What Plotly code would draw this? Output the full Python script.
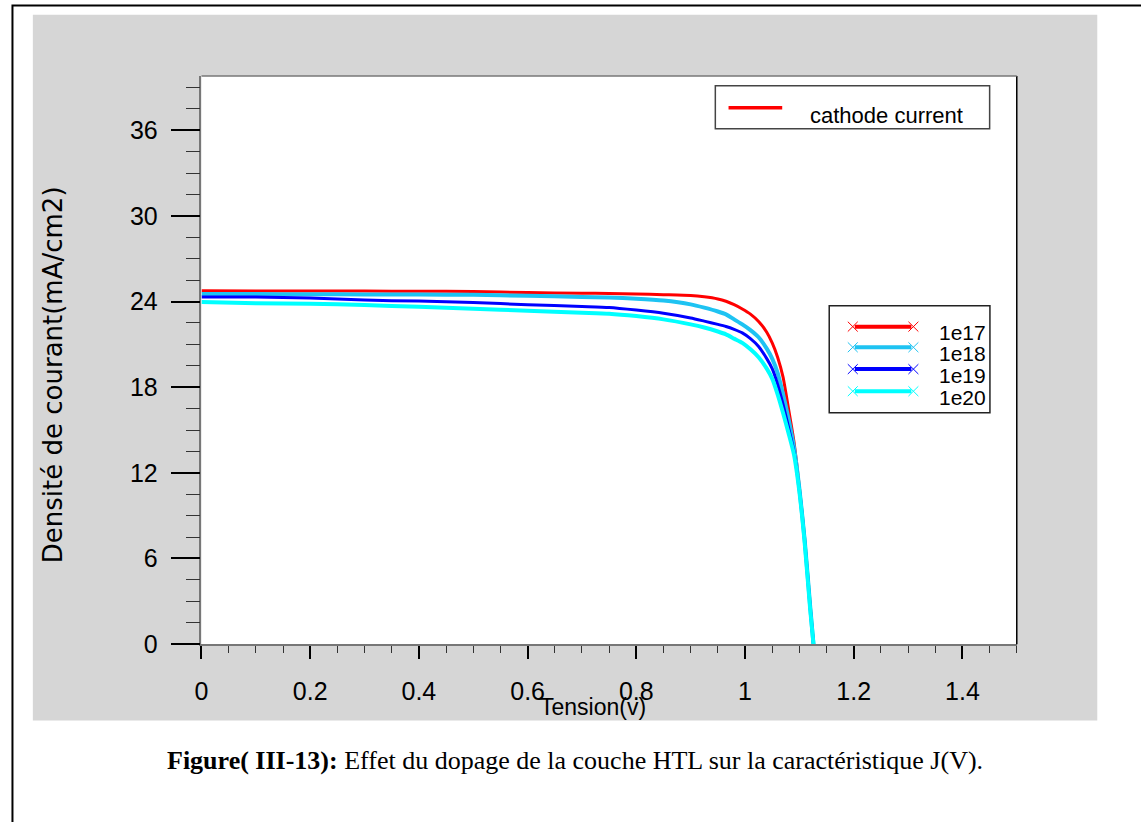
import plotly.graph_objects as go

W, H = 1141, 822

# ---------------- data ----------------
voltage = [0, 0.1, 0.2, 0.3, 0.4, 0.5, 0.6, 0.7, 0.75, 0.8, 0.85, 0.9, 0.925, 0.95, 0.965,
           0.98, 0.995, 1.01, 1.025, 1.04, 1.05, 1.06, 1.07, 1.08, 1.09, 1.10, 1.11, 1.12, 1.126]

j_1e17 = [24.75, 24.74, 24.74, 24.73, 24.72, 24.70, 24.63, 24.58, 24.57, 24.53, 24.48, 24.42, 24.33, 24.18, 24.02,
          23.78, 23.48, 23.12, 22.60, 21.85, 21.10, 20.10, 18.70, 16.50, 14.20, 11.00, 7.30, 2.70, 0.0]
j_1e18 = [24.52, 24.52, 24.51, 24.50, 24.49, 24.47, 24.40, 24.32, 24.28, 24.20, 24.07, 23.80, 23.57, 23.30, 23.10,
          22.75, 22.40, 22.00, 21.50, 20.70, 20.00, 19.00, 17.50, 15.80, 13.80, 10.90, 7.20, 2.60, 0.0]
j_1e19 = [24.31, 24.31, 24.25, 24.10, 24.03, 23.93, 23.78, 23.65, 23.58, 23.40, 23.18, 22.85, 22.63, 22.40, 22.25,
          22.05, 21.80, 21.40, 20.85, 20.00, 19.30, 18.20, 16.80, 15.20, 13.50, 10.80, 7.10, 2.50, 0.0]
j_1e20 = [23.97, 23.88, 23.85, 23.75, 23.63, 23.50, 23.35, 23.22, 23.15, 22.98, 22.75, 22.40, 22.18, 21.90, 21.70,
          21.40, 21.10, 20.65, 20.10, 19.30, 18.60, 17.50, 16.20, 14.80, 13.30, 10.70, 7.00, 2.40, 0.0]

series_names = ["1e17", "1e18", "1e19", "1e20"]
series_values = [j_1e17, j_1e18, j_1e19, j_1e20]
series_colors = ["#ff0000", "#1ec3f2", "#0000ff", "#00ffff"]
series_widths = [3, 4, 3, 4]

x_ticks = [0, 0.2, 0.4, 0.6, 0.8, 1.0, 1.2, 1.4]
x_tick_labels = ["0", "0.2", "0.4", "0.6", "0.8", "1", "1.2", "1.4"]
y_ticks = [0, 6, 12, 18, 24, 30, 36]
y_tick_labels = ["0", "6", "12", "18", "24", "30", "36"]

x_title = "Tension(v)"
y_title = "Densité de courant(mA/cm2)"
legend1_label = "cathode current"
caption_bold = "Figure( III-13):"
caption_text = " Effet du dopage de la couche HTL sur la caractéristique J(V)."

# ---------------- helpers (page pixel -> paper) ----------------
def px(x):
    return x / W

def py(y):
    return 1 - y / H

SANS = "Liberation Sans Narrow, Arial Narrow, Liberation Sans, Arial, sans-serif"

fig = go.Figure()
for name, vals, col, lw in zip(series_names, series_values, series_colors, series_widths):
    fig.add_trace(go.Scatter(x=voltage, y=vals, mode="lines", name=name,
                             line=dict(color=col, width=lw, shape="spline", smoothing=0.6),
                             showlegend=False))

shapes = []
# outer frame
shapes.append(dict(type="rect", xref="paper", yref="paper", x0=px(5.5), x1=px(1170), y0=py(860), y1=py(5.5),
                   line=dict(color="black", width=2), fillcolor="white", layer="below"))
# gray panel
shapes.append(dict(type="rect", xref="paper", yref="paper", x0=px(26), x1=px(1097), y0=py(733), y1=py(15),
                   line=dict(width=0), fillcolor="#d6d6d6", layer="below"))
# white plot area
shapes.append(dict(type="rect", xref="paper", yref="paper", x0=px(195.7), x1=px(1016), y0=py(655.3), y1=py(77.3),
                   line=dict(width=0), fillcolor="white", layer="below"))
# right border of plot (black)
shapes.append(dict(type="line", xref="paper", yref="paper", x0=px(1016), x1=px(1016), y0=py(655.3), y1=py(77.3),
                   line=dict(color="black", width=1.5)))
# top border of plot (gray)
shapes.append(dict(type="line", xref="paper", yref="paper", x0=px(195.7), x1=px(1016), y0=py(77.3), y1=py(77.3),
                   line=dict(color="#777", width=1.5)))

# legend 1
shapes.append(dict(type="rect", xref="paper", yref="paper", x0=px(712.7), x1=px(988.7), y0=py(131), y1=py(87.3),
                   line=dict(color="#444", width=1.5), fillcolor="white"))
shapes.append(dict(type="line", xref="paper", yref="paper", x0=px(726), x1=px(780), y0=py(109.5), y1=py(109.5),
                   line=dict(color="#ff0000", width=3.5)))

# legend 2
shapes.append(dict(type="rect", xref="paper", yref="paper", x0=px(827.3), x1=px(989), y0=py(420), y1=py(311),
                   line=dict(color="#222", width=1.5), fillcolor="white"))
leg_y = [332.3, 353.3, 375.5, 398.0]
for cy, col in zip(leg_y, series_colors):
    shapes.append(dict(type="line", xref="paper", yref="paper", x0=px(853), x1=px(910), y0=py(cy), y1=py(cy),
                       line=dict(color=col, width=4)))
    for cx in (851, 912):
        shapes.append(dict(type="line", xref="paper", yref="paper", x0=px(cx - 5), x1=px(cx + 5),
                           y0=py(cy - 5), y1=py(cy + 5), line=dict(color=col, width=1)))
        shapes.append(dict(type="line", xref="paper", yref="paper", x0=px(cx - 5), x1=px(cx + 5),
                           y0=py(cy + 5), y1=py(cy - 5), line=dict(color=col, width=1)))

annotations = []
annotations.append(dict(xref="paper", yref="paper", x=px(806), y=py(118), xanchor="left", yanchor="middle",
                        text=legend1_label, showarrow=False, font=dict(family=SANS, size=22, color="black")))
for cy, name in zip(leg_y, series_names):
    annotations.append(dict(xref="paper", yref="paper", x=px(936), y=py(cy + 6), xanchor="left", yanchor="middle",
                            text=name, showarrow=False, font=dict(family=SANS, size=21, color="black")))
# axis titles
annotations.append(dict(xref="paper", yref="paper", x=px(590), y=py(719), xanchor="center", yanchor="middle",
                        text=x_title, showarrow=False, font=dict(family=SANS, size=23, color="black")))
annotations.append(dict(xref="paper", yref="paper", x=px(46), y=py(381), xanchor="center", yanchor="middle",
                        text=y_title, textangle=-90, showarrow=False,
                        font=dict(family="DejaVu Sans, Liberation Sans, sans-serif", size=26, color="black")))
# caption
annotations.append(dict(xref="paper", yref="paper", x=px(572), y=py(774), xanchor="center", yanchor="middle",
                        text="<b>" + caption_bold + "</b>" + caption_text, showarrow=False,
                        font=dict(family="Liberation Serif, Times New Roman, serif", size=26, color="black")))

fig.update_layout(
    width=W, height=H,
    margin=dict(l=0, r=0, t=0, b=0, pad=0),
    paper_bgcolor="white",
    plot_bgcolor="rgba(0,0,0,0)",
    showlegend=False,
    shapes=shapes,
    annotations=annotations,
    xaxis=dict(
        domain=[px(195.7), px(1016)],
        range=[0, 1.5], tickvals=x_ticks, ticktext=x_tick_labels,
        ticks="outside", ticklen=13, tickwidth=2, tickcolor="black",
        minor=dict(ticks="outside", ticklen=7, tickwidth=1, tickcolor="#333", dtick=0.05, tick0=0, showgrid=False),
        showgrid=False, zeroline=False, showline=True, linecolor="#777", linewidth=1.5, mirror=False,
        tickfont=dict(family=SANS, size=25, color="black"), ticklabelstandoff=11,
    ),
    yaxis=dict(
        domain=[py(655.3), py(77.3)],
        range=[0, 39.8], tickvals=y_ticks, ticktext=y_tick_labels,
        ticks="outside", ticklen=29, tickwidth=2, tickcolor="black",
        minor=dict(ticks="outside", ticklen=14, tickwidth=1, tickcolor="#333", dtick=1.5, tick0=0, showgrid=False),
        showgrid=False, zeroline=False, showline=True, linecolor="#777", linewidth=1.5, mirror=False,
        tickfont=dict(family=SANS, size=25, color="black"), ticklabelstandoff=8,
    ),
)

fig.write_html("out.html", config={"displayModeBar": False},
               post_script="document.body.style.margin='0';document.body.style.overflow='hidden';")
